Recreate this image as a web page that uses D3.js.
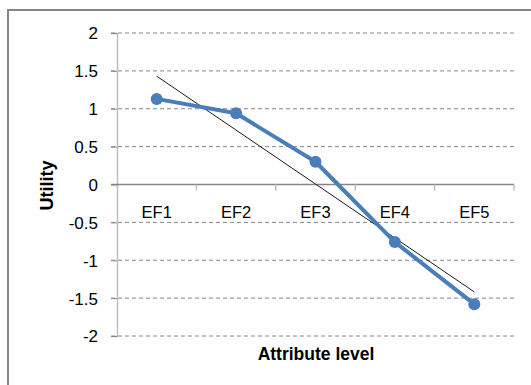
<!DOCTYPE html>
<html><head><meta charset="utf-8">
<script src="https://cdn.jsdelivr.net/npm/d3@7"></script>
<style>body{margin:0;background:#fff}svg{display:block}text{font-family:"Liberation Sans",Arial,sans-serif;fill:#000}</style>
</head><body><svg id="c" width="531" height="385"></svg>
<script>
const categories = ["EF1","EF2","EF3","EF4","EF5"];
const utility = [1.13, 0.94, 0.30, -0.76, -1.58];
const yTicks = [2, 1.5, 1, 0.5, 0, -0.5, -1, -1.5, -2];
const yTickLabels = ["2","1.5","1","0.5","0","-0.5","-1","-1.5","-2"];
const xTitle = "Attribute level";
const yTitle = "Utility";

const svg = d3.select("#c");
svg.append("rect").attr("x",8).attr("y",10).attr("width",560).attr("height",420)
  .attr("fill","#fff").attr("stroke","#868686").attr("stroke-width",2);

const x = d3.scaleBand().domain(categories).range([117,514]).padding(0);
const y = d3.scaleLinear().domain([-2,2]).range([336,33]);
const cx = c => x(c) + x.bandwidth()/2;

// gridlines
svg.append("g").selectAll("line").data(yTicks.filter(v=>v!==0)).join("line")
  .attr("x1",111).attr("x2",514).attr("y1",d=>y(d)).attr("y2",d=>y(d))
  .attr("stroke","#868686").attr("stroke-width",1).attr("stroke-dasharray","4,3");

// y axis
const ya = svg.append("g").attr("transform","translate(117,0)")
  .call(d3.axisLeft(y).tickValues(yTicks).tickSize(6).tickFormat((d,i)=>yTickLabels[i]));
ya.select(".domain").attr("stroke","#bfbfbf").attr("stroke-width",1.5);
ya.selectAll(".tick line").attr("stroke","#868686");
ya.selectAll(".tick text").attr("x",-19).attr("font-size","17px")
  .attr("font-family","Liberation Sans, Arial, sans-serif").attr("fill","#000").attr("dy","0.35em");

// x axis at y=0
const xa = svg.append("g").attr("transform",`translate(0,${y(0)})`);
xa.append("line").attr("x1",111).attr("x2",514).attr("y1",0).attr("y2",0)
  .attr("stroke","#868686").attr("stroke-width",1.5);
const bounds = categories.map(c=>x(c)).concat([x.range()[1]]).slice(1);
xa.selectAll("line.t").data(bounds).join("line").attr("class","t")
  .attr("x1",d=>d).attr("x2",d=>d).attr("y1",0).attr("y2",6)
  .attr("stroke","#bfbfbf").attr("stroke-width",1.5);
xa.selectAll("text").data(categories).join("text")
  .attr("x",d=>cx(d)).attr("y",33).attr("text-anchor","middle")
  .attr("font-size","16.5px").text(d=>d);

// trendline (least squares)
const n = utility.length, xs = d3.range(n);
const mx = d3.mean(xs), my = d3.mean(utility);
const slope = d3.sum(xs,(v,i)=>(v-mx)*(utility[i]-my))/d3.sum(xs,v=>(v-mx)*(v-mx));
const icpt = my - slope*mx;
svg.append("line")
  .attr("x1",cx(categories[0])).attr("y1",y(icpt))
  .attr("x2",cx(categories[n-1])).attr("y2",y(icpt+slope*(n-1)))
  .attr("stroke","#1a1a1a").attr("stroke-width",1);

// series
const line = d3.line().x((d,i)=>cx(categories[i])).y(d=>y(d));
svg.append("path").datum(utility).attr("d",line).attr("fill","none")
  .attr("stroke","#4a7ebb").attr("stroke-width",4).attr("stroke-linejoin","round");
svg.append("g").selectAll("circle").data(utility).join("circle")
  .attr("cx",(d,i)=>cx(categories[i])).attr("cy",d=>y(d)).attr("r",6)
  .attr("fill","#4a7ebb");

// titles
svg.append("text").attr("x",316).attr("y",360).attr("text-anchor","middle")
  .attr("font-size","17.5px").attr("font-weight","bold").text(xTitle);
svg.append("text").attr("transform","translate(53,185.5) rotate(-90)").attr("text-anchor","middle")
  .attr("font-size","18px").attr("font-weight","bold").text(yTitle);
</script></body></html>
